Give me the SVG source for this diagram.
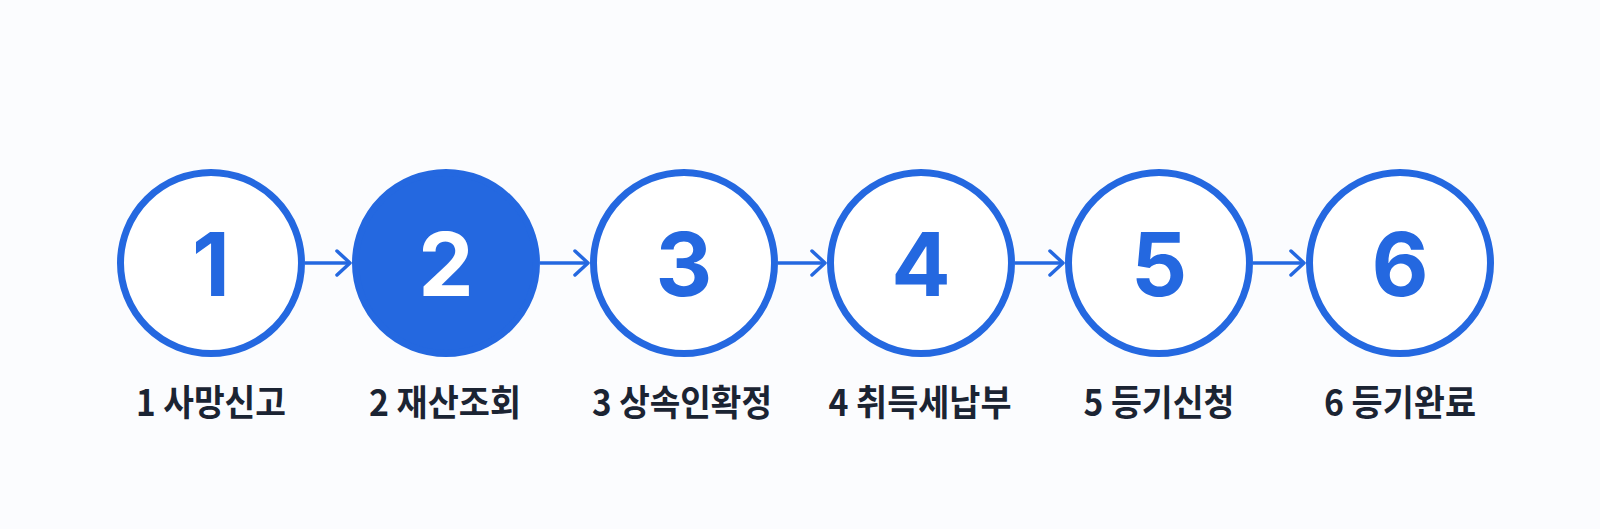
<svg xmlns="http://www.w3.org/2000/svg" width="1600" height="529" viewBox="0 0 1600 529">
<style>
.ring{fill:#ffffff;stroke:#2468E0;stroke-width:7}
.ring.active{fill:#2468E0}
.num{font-family:Inter,"Liberation Sans",sans-serif;font-weight:700;font-size:88px;fill:#2468E0;text-anchor:middle}
.num.active{fill:#ffffff}
.lbl{font-family:"Noto Sans CJK KR","Noto Sans",sans-serif;font-weight:700;font-size:36px;fill:#1B2433;text-anchor:middle}
.conn{stroke:#2468E0;stroke-width:3.5;fill:none}
.head{stroke:#2468E0;stroke-width:3.5;fill:none;stroke-linecap:round;stroke-linejoin:round}
</style>
<defs>
<marker id="arr" viewBox="0 0 20 28" refX="17" refY="14" markerWidth="20" markerHeight="28" markerUnits="userSpaceOnUse" orient="auto">
<path class="head" d="M4 2 L17 14 L4 26"/>
</marker>
</defs>
<rect width="1600" height="529" fill="#FBFCFE"/>
<g id="connectors">
<line class="conn" x1="305" y1="263" x2="350" y2="263" marker-end="url(#arr)"/>
<line class="conn" x1="540" y1="263" x2="588" y2="263" marker-end="url(#arr)"/>
<line class="conn" x1="778" y1="263" x2="825" y2="263" marker-end="url(#arr)"/>
<line class="conn" x1="1015" y1="263" x2="1063" y2="263" marker-end="url(#arr)"/>
<line class="conn" x1="1253" y1="263" x2="1304" y2="263" marker-end="url(#arr)"/>
</g>
<g id="step1"><circle class="ring" cx="211" cy="263" r="90.5"/><text class="num" x="211" y="296">1</text><text class="lbl" x="211" y="416" textLength="150" lengthAdjust="spacingAndGlyphs">1 사망신고</text></g>
<g id="step2"><circle class="ring active" cx="446" cy="263" r="90.5"/><text class="num active" x="446" y="296">2</text><text class="lbl" x="445" y="416" textLength="152" lengthAdjust="spacingAndGlyphs">2 재산조회</text></g>
<g id="step3"><circle class="ring" cx="684" cy="263" r="90.5"/><text class="num" x="684" y="296">3</text><text class="lbl" x="682" y="416" textLength="180" lengthAdjust="spacingAndGlyphs">3 상속인확정</text></g>
<g id="step4"><circle class="ring" cx="921" cy="263" r="90.5"/><text class="num" x="921" y="296">4</text><text class="lbl" x="920" y="416" textLength="183" lengthAdjust="spacingAndGlyphs">4 취득세납부</text></g>
<g id="step5"><circle class="ring" cx="1159" cy="263" r="90.5"/><text class="num" x="1159" y="296">5</text><text class="lbl" x="1159" y="416" textLength="151" lengthAdjust="spacingAndGlyphs">5 등기신청</text></g>
<g id="step6"><circle class="ring" cx="1400" cy="263" r="90.5"/><text class="num" x="1400" y="296">6</text><text class="lbl" x="1400" y="416" textLength="152" lengthAdjust="spacingAndGlyphs">6 등기완료</text></g>
</svg>
